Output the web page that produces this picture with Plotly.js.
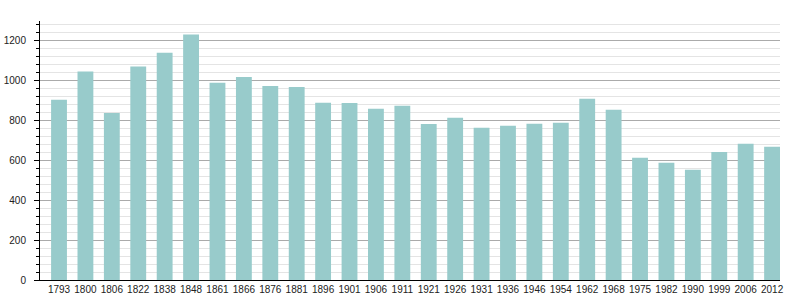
<!DOCTYPE html>
<html>
<head>
<meta charset="utf-8">
<script src="https://cdn.plot.ly/plotly-3.0.1.min.js"></script>
<style>html,body{margin:0;padding:0;background:#fff;}#chart{width:800px;height:300px;}</style>
</head>
<body>
<div id="chart"></div>
<script>
var years = ["1793","1800","1806","1822","1838","1848","1861","1866","1876","1881","1896","1901","1906","1911","1921","1926","1931","1936","1946","1954","1962","1968","1975","1982","1990","1999","2006","2012"];
var population = [905,1046,838,1071,1141,1232,990,1019,974,969,890,888,860,875,783,814,764,774,784,789,910,855,613,588,553,643,684,669];

Plotly.newPlot('chart', [{
  type: 'bar',
  x: years,
  y: population,
  marker: {color: '#98cbcb', line: {width: 0}},
  width: 0.6,
  hoverinfo: 'x+y'
}], {
  width: 800, height: 300,
  margin: {l: 40, r: 20, t: 21, b: 20, pad: 0},
  paper_bgcolor: '#fff', plot_bgcolor: '#fff',
  font: {family: 'Liberation Sans, Arial, sans-serif', size: 10, color: '#222'},
  showlegend: false,
  xaxis: {
    type: 'category',
    range: [-0.72, 27.3],
    showline: true, linecolor: '#000', linewidth: 1,
    ticks: '', showgrid: false,
    tickfont: {size: 10, color: '#222'},
    fixedrange: true
  },
  yaxis: {
    range: [0, 1300],
    dtick: 200, tick0: 0,
    showline: true, linecolor: '#000', linewidth: 1,
    ticks: 'outside', ticklen: 5, tickcolor: '#000', tickwidth: 1,
    showgrid: true, gridcolor: '#aaaaaa', gridwidth: 1,
    zeroline: false,
    tickfont: {size: 10, color: '#222'},
    ticklabelstandoff: 6,
    minor: {dtick: 40, tick0: 0, showgrid: true, gridcolor: '#e4e4e4', gridwidth: 1, ticks: 'outside', ticklen: 3, tickcolor: '#000'},
    fixedrange: true
  },
  bargap: 0.4
}, {displayModeBar: false, staticPlot: true});
</script>
</body>
</html>
